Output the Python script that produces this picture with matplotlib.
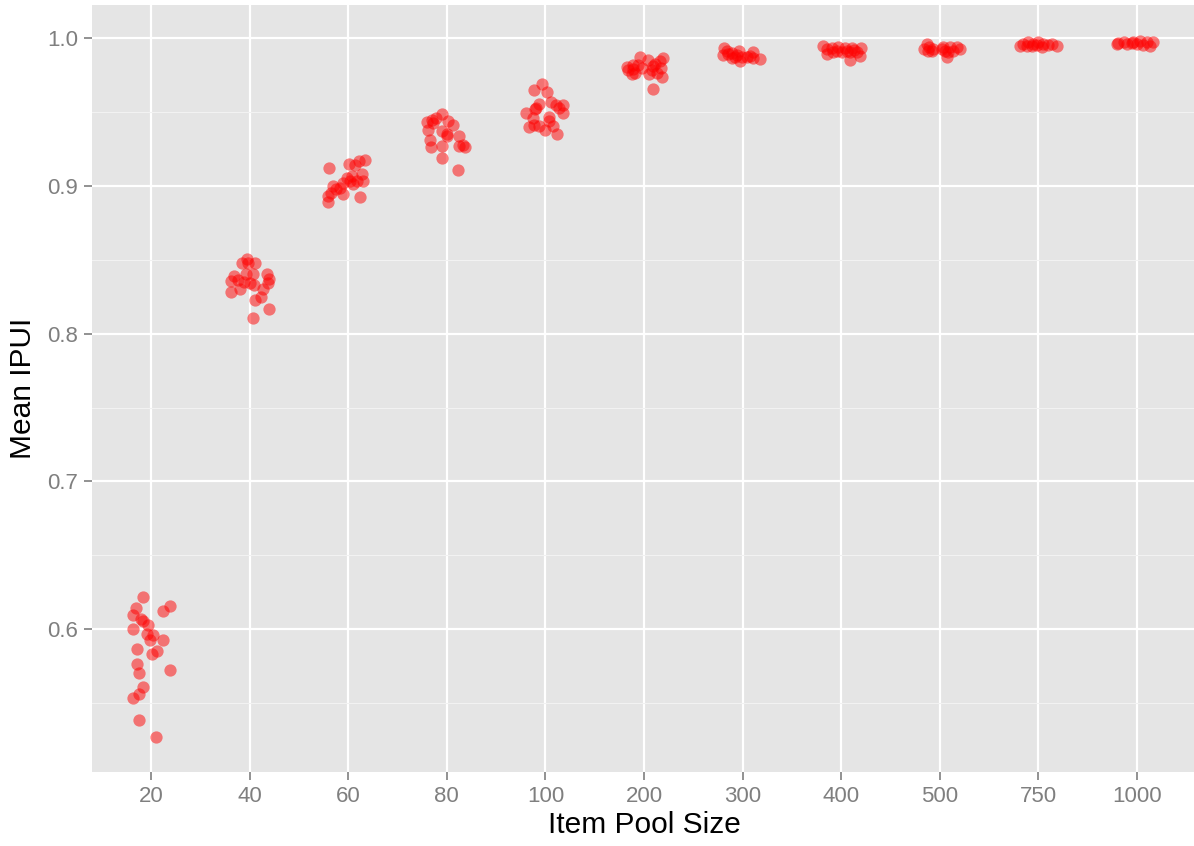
import numpy as np
import matplotlib
matplotlib.use("Agg")
from matplotlib import pyplot as plt

plt.rcParams['font.family'] = ['Liberation Sans', 'DejaVu Sans']

pool_sizes = ['20', '40', '60', '80', '100', '200', '300', '400', '500', '750', '1000']

# horizontal jitter of each replication (category units) and its mean IPUI
jit_20 = [-0.078, 0.193, -0.152, 0.119, -0.186, -0.104, -0.078, -0.027, -0.18, -0.044, 0.023, -0.01,
          0.119, -0.145, 0.064, 0.007, -0.145, 0.193, -0.119, -0.078, -0.119, -0.186, -0.125, 0.051]
ipui_20 = [0.622, 0.6156, 0.6147, 0.6122, 0.6097, 0.6072, 0.6056, 0.6027, 0.6005, 0.5971, 0.5959, 0.593,
           0.593, 0.5867, 0.5853, 0.583, 0.5763, 0.5722, 0.5704, 0.5609, 0.5564, 0.5537, 0.5383, 0.5273]

jit_40 = [-0.023, -0.08, 0.055, -0.013, -0.158, -0.037, 0.031, 0.173, -0.192, -0.115, -0.057,
          0.004, 0.2, 0.19, -0.097, 0.045, 0.139, -0.192, 0.113, 0.055, 0.2, 0.031]
ipui_40 = [0.8506, 0.8475, 0.848, 0.848, 0.8393, 0.8407, 0.8405, 0.8405, 0.8355, 0.8362, 0.8348,
           0.8344, 0.837, 0.8344, 0.8303, 0.8332, 0.8303, 0.828, 0.8249, 0.823, 0.8167, 0.8106]

jit_60 = [-0.192, 0.011, 0.113, 0.17, 0.069, 0.137, -0.015, 0.035, 0.018, 0.086, 0.153,
          -0.05, -0.151, -0.124, -0.177, -0.056, -0.202, 0.12, -0.202, -0.083, 0.052]
ipui_60 = [0.9123, 0.9146, 0.9168, 0.9173, 0.9139, 0.9078, 0.9055, 0.9066, 0.9033, 0.9033, 0.9033,
           0.9022, 0.9, 0.8976, 0.8954, 0.8947, 0.8931, 0.8924, 0.889, 0.8988, 0.901]

jit_80 = [-0.052, -0.11, -0.153, -0.198, 0.015, 0.06, -0.188, -0.052, 0.005, 0.127,
          -0.17, 0.161, 0.185, -0.163, -0.052, -0.001, -0.046, 0.11, 0.127, -0.14]
ipui_80 = [0.9485, 0.9462, 0.9446, 0.9433, 0.9439, 0.941, 0.9376, 0.9372, 0.9354, 0.9338,
           0.931, 0.9275, 0.9263, 0.9263, 0.927, 0.934, 0.9191, 0.9107, 0.927, 0.9428]

jit_100 = [-0.038, -0.113, 0.013, 0.057, -0.062, -0.095, 0.108, 0.182, 0.141, -0.197, 0.175,
           -0.123, 0.04, 0.04, -0.163, -0.113, -0.062, 0.074, -0.004, 0.115, -0.105]
ipui_100 = [0.9688, 0.9647, 0.9632, 0.9571, 0.9553, 0.953, 0.9548, 0.9548, 0.9525, 0.9496, 0.949,
            0.9462, 0.9467, 0.9439, 0.9399, 0.9412, 0.9405, 0.9405, 0.9376, 0.9354, 0.9519]

jit_200 = [-0.041, 0.196, 0.044, 0.162, -0.169, -0.109, -0.058, 0.094, -0.159, -0.109,
           0.078, 0.169, -0.125, 0.054, 0.135, 0.18, 0.088, -0.091, 0.112, -0.023]
ipui_200 = [0.9873, 0.9864, 0.9851, 0.9842, 0.9805, 0.9819, 0.9819, 0.9812, 0.9783, 0.979,
            0.9783, 0.9797, 0.9756, 0.9756, 0.9761, 0.9734, 0.9654, 0.9767, 0.9824, 0.9801]

jit_300 = [-0.189, -0.161, -0.111, -0.033, -0.196, -0.077, -0.009, 0.102,
           0.042, 0.109, 0.176, -0.026, -0.111, -0.145, -0.06, 0.075]
ipui_300 = [0.9932, 0.991, 0.9896, 0.991, 0.9887, 0.9869, 0.9873, 0.9903,
            0.9869, 0.9864, 0.9858, 0.9846, 0.9864, 0.9892, 0.9887, 0.988]

jit_400 = [-0.188, -0.147, -0.096, -0.029, 0.039, 0.106, 0.198, -0.147, -0.08,
           0.005, 0.089, 0.13, 0.191, 0.089, 0.056, 0.157, -0.046]
ipui_400 = [0.9948, 0.9925, 0.9932, 0.9937, 0.9932, 0.9932, 0.9932, 0.9892, 0.9903,
            0.9903, 0.9903, 0.9919, 0.988, 0.9851, 0.9914, 0.9903, 0.991]

jit_500 = [-0.133, -0.106, -0.16, -0.082, -0.117, 0.035, 0.103, 0.171,
           0.205, 0.053, 0.137, 0.07, 0.019, -0.066, 0.086]
ipui_500 = [0.9959, 0.9941, 0.9925, 0.991, 0.991, 0.9937, 0.9937, 0.9937,
            0.9925, 0.9914, 0.991, 0.9873, 0.9925, 0.9925, 0.9903]

jit_750 = [-0.153, -0.102, -0.052, -0.001, 0.05, 0.1, 0.186, -0.068, -0.187, 0.033, -0.017, -0.119, 0.135]
ipui_750 = [0.9959, 0.9971, 0.9959, 0.9971, 0.9959, 0.9953, 0.9948, 0.9944, 0.9944, 0.9937, 0.9953, 0.9948, 0.9959]

jit_1000 = [-0.19, -0.132, -0.054, 0.03, 0.098, 0.165, 0.132, -0.003, -0.104, -0.2, 0.064, -0.038]
ipui_1000 = [0.9966, 0.9975, 0.9966, 0.9982, 0.9971, 0.9971, 0.9948, 0.9959, 0.9959, 0.9959, 0.9953, 0.9975]

jitters = [jit_20, jit_40, jit_60, jit_80, jit_100, jit_200, jit_300, jit_400, jit_500, jit_750, jit_1000]
means = [ipui_20, ipui_40, ipui_60, ipui_80, ipui_100, ipui_200, ipui_300, ipui_400, ipui_500, ipui_750, ipui_1000]

fig = plt.figure(figsize=(11.94, 8.46), dpi=100)
ax = fig.add_axes([92 / 1194, 1 - 772 / 846, 1104 / 1194, 767 / 846])
ax.set_facecolor('#E5E5E5')

for i, (jx, vals) in enumerate(zip(jitters, means)):
    xs = i + 1 + np.array(jx)
    ax.scatter(xs, vals, s=78, color='red', alpha=0.5, linewidths=0, zorder=3)

ax.set_xlim(0.4, 11.6)
ax.set_ylim(0.5034, 1.0224)

ax.set_xticks(range(1, len(pool_sizes) + 1))
ax.set_xticklabels(pool_sizes)
ax.set_yticks([0.6, 0.7, 0.8, 0.9, 1.0])
ax.set_yticklabels(['0.6', '0.7', '0.8', '0.9', '1.0'])
ax.set_yticks([0.55, 0.65, 0.75, 0.85, 0.95], minor=True)

ax.grid(True, which='major', color='white', linewidth=1.6, zorder=1)
ax.grid(True, which='minor', axis='y', color='#F2F2F2', linewidth=0.8, zorder=0)
ax.set_axisbelow(True)

for sp in ax.spines.values():
    sp.set_visible(False)

ax.tick_params(which='major', length=6, width=1.2, color='#7F7F7F',
               labelcolor='#7F7F7F', labelsize=16, pad=4)
ax.tick_params(which='minor', length=0)

ax.set_xlabel('Item Pool Size', fontsize=21.5, color='black', labelpad=3)
ax.set_ylabel('Mean IPUI', fontsize=21.5, color='black', labelpad=7)

fig.savefig('out.png', dpi=100, facecolor='white')
